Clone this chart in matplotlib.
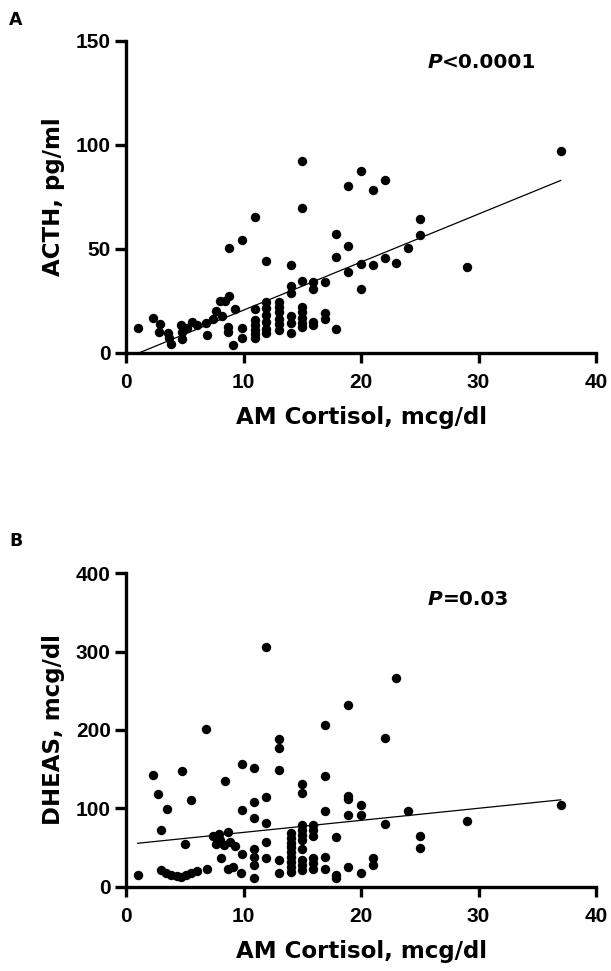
import matplotlib
matplotlib.use("Agg")
import matplotlib.pyplot as plt
import numpy as np

# ---------------- data ----------------
acth_cortisol = [1.0, 2.3, 2.9, 2.8, 3.6, 3.8, 3.7, 4.7, 4.8, 4.8, 5.2, 5.6, 6.0, 6.8, 6.9,
                 7.4, 7.7, 8.0, 8.4, 8.8, 8.2, 8.7, 8.7, 8.8, 9.3, 9.1, 9.9, 9.9, 9.9,
                 11.0, 11.0, 11.0, 11.0, 11.0, 11.0, 11.0,
                 11.9, 11.9, 11.9, 11.9, 11.9, 11.9, 11.9,
                 13.0, 13.0, 13.0, 13.0, 13.0, 13.0,
                 14.0, 14.0, 14.0, 14.0, 14.0, 14.0,
                 15.0, 15.0, 15.0, 15.0, 15.0, 15.0, 15.0, 15.0,
                 15.9, 15.9, 15.9, 15.9,
                 16.9, 16.9, 16.9,
                 17.9, 17.9, 17.9,
                 18.9, 18.9, 18.9,
                 20.0, 20.0, 20.0,
                 21.0, 21.0, 22.0, 22.0, 23.0, 24.0, 25.0, 25.0, 29.0, 37.0]
acth_values = [12, 17, 14, 10, 9.5, 4.5, 7, 13.5, 10, 6.5, 12, 15, 13.5, 14.5, 8.5,
               16.5, 20, 25, 25, 27.5, 18, 12.5, 10, 50.5, 21, 4, 12, 7, 54.5,
               65.5, 21, 16, 13.5, 11, 9, 7,
               44, 24.5, 21.5, 18.5, 15, 11.5, 9.5,
               24.5, 22, 19.5, 16.5, 14, 11,
               42.5, 32, 29, 18, 14.5, 9.5,
               92.5, 69.5, 34.5, 22, 19.5, 17, 14.5, 12.5,
               34, 31, 15, 13.5,
               34, 19, 16.5,
               57, 46, 11.5,
               80.5, 51.5, 39,
               87.5, 43, 31,
               78.5, 42.5, 83, 45.5, 43.5, 50.5, 64.5, 56.5, 41.5, 97]

dheas_cortisol = [1.0, 2.3, 2.75, 2.95, 3.5,
                  3.0, 3.4, 3.8, 4.3, 4.7, 5.1, 5.5, 6.0,
                  4.8, 5.0, 5.5, 6.8, 6.9,
                  7.4, 7.9, 8.0, 7.7, 8.3, 8.7, 8.85, 9.3,
                  8.1, 8.4, 8.7, 9.1,
                  9.9, 9.9, 9.9, 9.8,
                  10.9, 10.9, 10.9, 10.9, 10.9, 10.9, 10.9,
                  11.9, 11.9, 11.9, 11.9, 11.9,
                  13.0, 13.0, 13.0, 13.0, 13.0,
                  14.0, 14.0, 14.0, 14.0, 14.0, 14.0, 14.0, 14.0, 14.0,
                  15.0, 15.0, 15.0, 15.0, 15.0, 15.0, 15.0, 15.0, 15.0, 15.0,
                  15.9, 15.9, 15.9, 15.9, 15.9, 15.9,
                  16.9, 16.9, 16.9, 16.9, 16.9,
                  17.9, 17.9, 17.9,
                  18.9, 18.9, 18.9, 18.9, 18.9,
                  20.0, 20.0, 20.0,
                  21.0, 21.0, 22.0, 22.0, 23.0, 24.0, 25.0, 25.0, 29.0, 37.0]
dheas_values = [15, 142, 118, 72, 99,
                21, 17, 15, 13, 12, 15, 17, 20,
                147, 54, 110, 201, 22,
                65, 67, 59, 55, 53, 70, 57, 52,
                36, 135, 23, 25,
                157, 98, 42, 17,
                151, 108, 87, 48, 38, 28, 11,
                306, 114, 81, 57, 36,
                189, 177, 149, 34, 17,
                68, 62, 56, 50, 44, 38, 32, 25, 19,
                131, 120, 79, 72, 66, 60, 48, 34, 28, 21,
                79, 72, 64, 36, 30, 23,
                206, 141, 97, 38, 23,
                63, 15, 11,
                232, 116, 112, 92, 25,
                104, 91, 17,
                37, 28, 190, 80, 266, 97, 64, 49, 84, 104]

# regression lines (slope, intercept)
acth_fit = (2.31, -2.5)
dheas_fit = (1.54, 53.8)
fit_range = (1.0, 37.0)

x_ticks = [0, 10, 20, 30, 40]
acth_ticks = [0, 50, 100, 150]
dheas_ticks = [0, 100, 200, 300, 400]

# ---------------- figure ----------------
W, H = 611, 971
fig = plt.figure(figsize=(W / 100, H / 100), dpi=100)

tick_font = dict(family=["Liberation Sans", "DejaVu Sans"], weight="bold", size=15)
label_font = dict(family=["DejaVu Sans"], weight="bold", size=16.5)


def panel(rect, xs, ys, fit, yticks, ylabel, ptext, ppos, letter, letter_pos):
    ax = fig.add_axes(rect)
    ax.scatter(xs, ys, s=46, c="black", marker="o", linewidths=0, zorder=3, clip_on=False)
    fx = np.array(fit_range)
    ax.plot(fx, fit[0] * fx + fit[1], color="black", lw=0.9, zorder=2)
    ax.set_xlim(0, 40)
    ax.set_ylim(yticks[0], yticks[-1])
    ax.set_xticks(x_ticks)
    ax.set_yticks(yticks)
    for s in ["top", "right"]:
        ax.spines[s].set_visible(False)
    for s in ["left", "bottom"]:
        ax.spines[s].set_linewidth(2.4)
    ax.tick_params(axis="x", width=2.4, length=7.5, direction="out", pad=7)
    ax.tick_params(axis="y", width=2.4, length=8, direction="out", pad=3)
    ax.set_xticklabels([str(t) for t in x_ticks], **tick_font)
    ax.set_yticklabels([str(t) for t in yticks], **tick_font)
    ax.set_xlabel("AM Cortisol, mcg/dl", labelpad=10, **label_font)
    ax.set_ylabel(ylabel, labelpad=8, **label_font)
    ax.text(ppos[0], ppos[1], "P", transform=ax.transAxes, ha="right", va="center",
            family=["DejaVu Sans"], weight="bold", style="italic", size=14.5)
    ax.text(ppos[0], ppos[1], ptext, transform=ax.transAxes, ha="left", va="center",
            family=["DejaVu Sans"], weight="bold", size=14.5)
    fig.text(letter_pos[0], letter_pos[1], letter, ha="left", va="center",
             family=["DejaVu Sans"], weight="bold", size=12.5)
    return ax


axA = panel([126 / W, 1 - 353 / H, (596 - 126) / W, (353 - 41) / H],
            acth_cortisol, acth_values, acth_fit, acth_ticks, "ACTH, pg/ml",
            "<0.0001", (0.672, 0.932), "A", (9 / W, 1 - 20 / H))

axB = panel([126 / W, 1 - 886.6 / H, (596 - 126) / W, (886.6 - 573.3) / H],
            dheas_cortisol, dheas_values, dheas_fit, dheas_ticks, "DHEAS, mcg/dl",
            "=0.03", (0.674, 0.915), "B", (9 / W, 1 - 541 / H))

fig.savefig("out.png", dpi=100, facecolor="white")
